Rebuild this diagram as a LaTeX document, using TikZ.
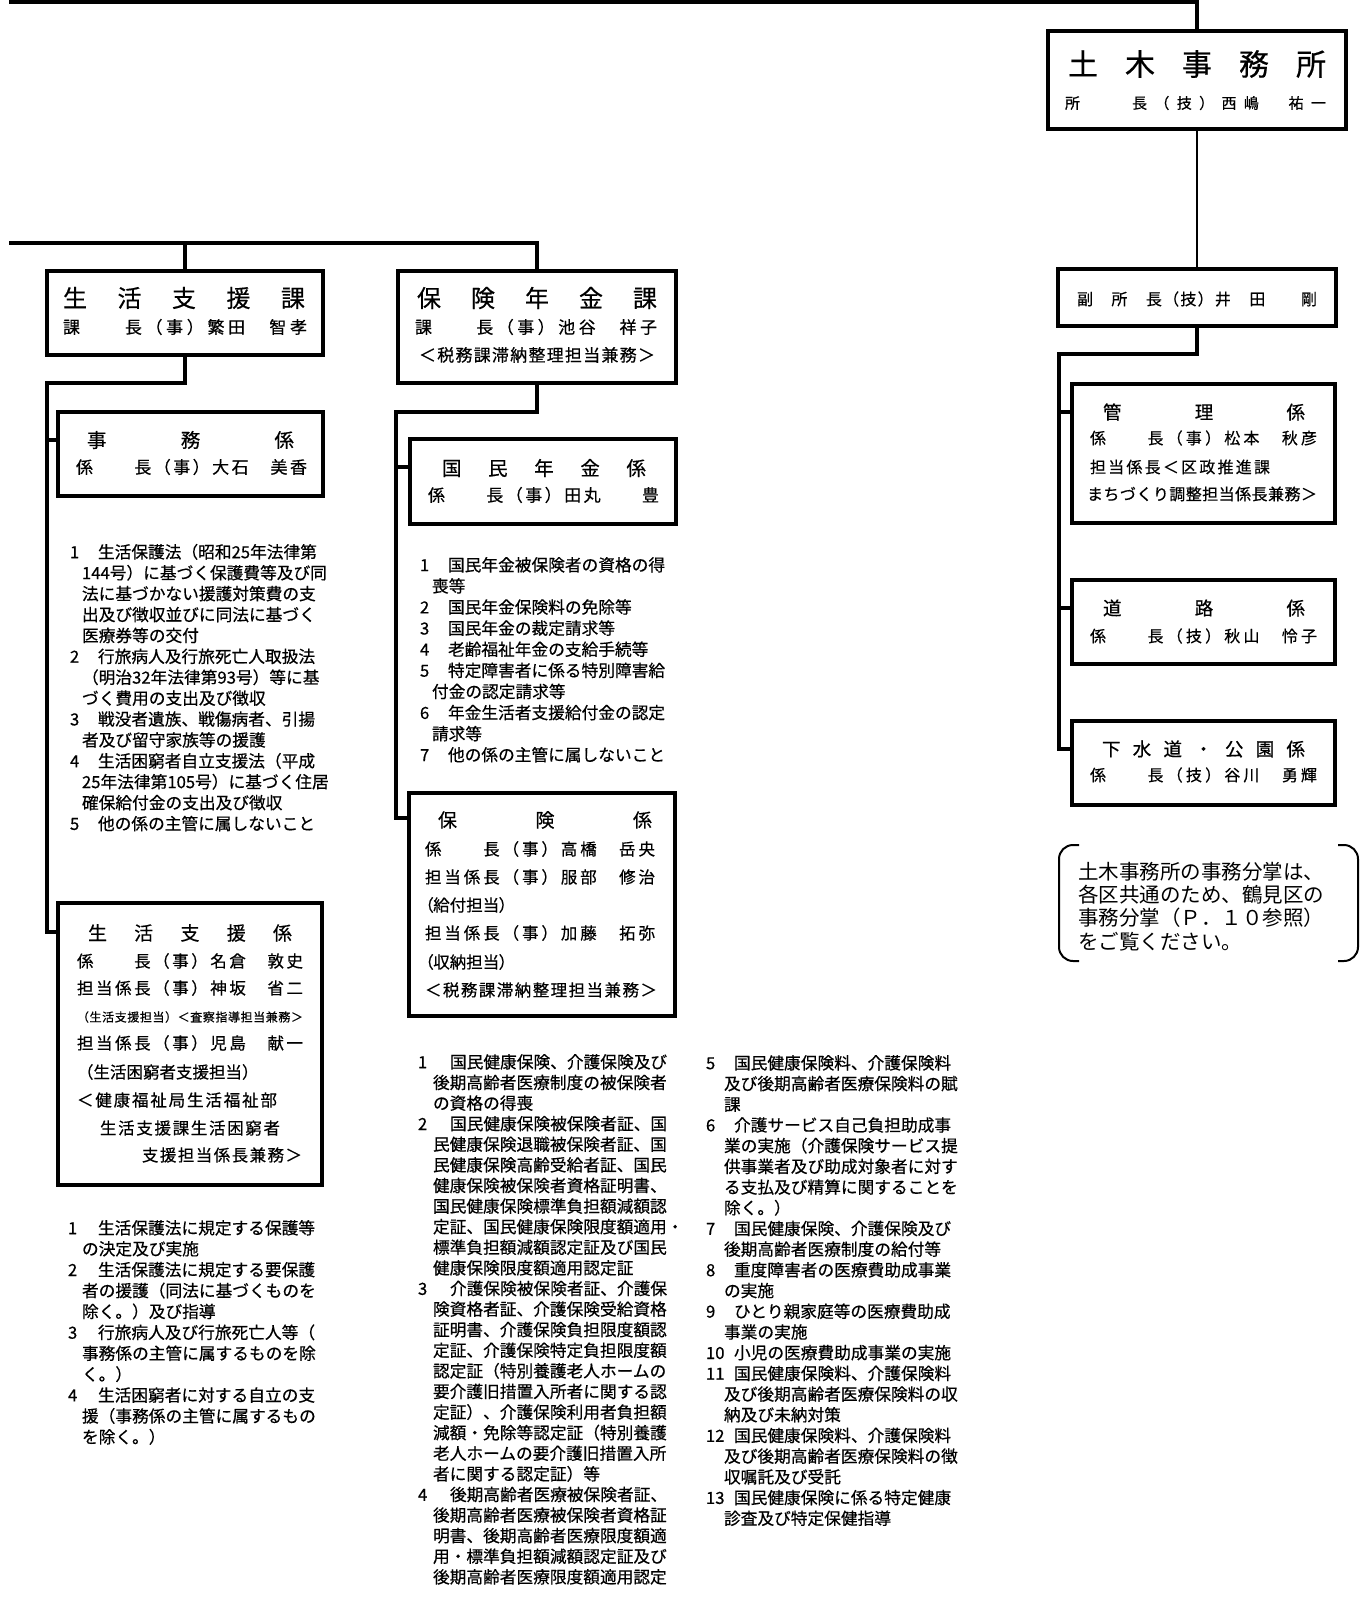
\documentclass[tikz,border=0pt]{standalone}
\usepackage{fontspec}
\setmainfont{Noto Sans CJK JP}[FakeBold=0.5]
\newfontfamily\pfont{Noto Sans CJK JP}[RawFeature=+palt,FakeBold=0.5]
\newfontfamily\notefont{Noto Sans CJK JP}
\makeatletter
\newcommand\spread[2]{\makebox[#1pt][s]{\spr@first#2\relax}}
\def\spr@first#1{#1\spr@rest}
\def\spr@rest#1{\ifx\relax#1\else\hfill#1\expandafter\spr@rest\fi}
\makeatother
\newcommand\fsz[1]{\fontsize{#1pt}{#1pt}\selectfont}
\newcommand\lnum[1]{\makebox[\numw][l]{#1}}
\newcommand\lcont{\hspace*{\contw}}
\newcommand\firstrule{\rule{0pt}{16pt}}
\def\numw{28pt}
\def\contw{12pt}
\tikzset{
  box/.style={draw, line width=3.5pt, inner sep=0pt, outer sep=0pt, anchor=north west},
  link/.style={line width=3.2pt},
  thinlink/.style={line width=2.4pt},
  brk/.style={line width=2pt, rounded corners=14pt},
  lbl/.style={inner sep=0pt, outer sep=0pt, anchor=west},
  listtxt/.style={inner sep=0pt, outer sep=0pt, anchor=north west, align=left},
}
\begin{document}
\begin{tikzpicture}[x=1pt,y=-1pt]
\useasboundingbox (0,0) rectangle (1363,1608);
\fill[white] (0,0) rectangle (1363,1608);

% ---------------- boxes ----------------
\node[box, minimum width=298pt, minimum height=98pt]  (doboku) at (1048,31) {};
\node[box, minimum width=278pt, minimum height=57pt]  (fuku)   at (1058,269) {};
\node[box, minimum width=263pt, minimum height=139pt] (kanri)  at (1072,384) {};
\node[box, minimum width=263pt, minimum height=84pt]  (doro)   at (1072,580) {};
\node[box, minimum width=263pt, minimum height=84pt]  (gesui)  at (1072,721) {};

\node[box, minimum width=276pt, minimum height=84pt]  (seikatsuKa) at (47,271) {};
\node[box, minimum width=278pt, minimum height=112pt] (hokenKa)    at (398,271) {};
\node[box, minimum width=265pt, minimum height=84pt]  (jimu)       at (58,412) {};
\node[box, minimum width=266pt, minimum height=85pt]  (kokumin)    at (410,439) {};
\node[box, minimum width=266pt, minimum height=223pt] (hokenKakari) at (409,793) {};
\node[box, minimum width=264pt, minimum height=282pt] (seikatsuKakari) at (58,903) {};

% ---------------- connectors ----------------
\coordinate (topstart) at (9,2);
\coordinate (midstart) at (9,243);
\coordinate (rspine) at (1059,354);
\coordinate (lspine) at (47,383);
\coordinate (mspine) at (396,412);
\coordinate (kanriIn) at ([yshift=-28pt]kanri.north west);
\coordinate (doroIn) at ([yshift=-28pt]doro.north west);
\coordinate (gesuiIn) at ([yshift=-28pt]gesui.north west);
\coordinate (jimuIn) at ([yshift=-28pt]jimu.north west);
\coordinate (seikatsuKakariIn) at ([yshift=-29pt]seikatsuKakari.north west);
\coordinate (kokuminIn) at ([yshift=-28pt]kokumin.north west);
\coordinate (hokenKakariIn) at ([yshift=-25pt]hokenKakari.north west);

\draw[link] (topstart) -| (doboku.north);
\draw[thinlink] (doboku.south) -- (fuku.north);
\draw[link] (fuku.south) |- (rspine) |- (gesuiIn);
\draw[link] (rspine |- kanriIn) -- (kanriIn);
\draw[link] (rspine |- doroIn) -- (doroIn);

\draw[link] (midstart) -| (hokenKa.north);
\draw[link] (seikatsuKa.north |- midstart) -- (seikatsuKa.north);
\draw[link] (seikatsuKa.south) |- (lspine) |- (seikatsuKakariIn);
\draw[link] (lspine |- jimuIn) -- (jimuIn);
\draw[link] (hokenKa.south) |- (mspine) |- (hokenKakariIn);
\draw[link] (mspine |- kokuminIn) -- (kokuminIn);

% ---------------- box texts: right column ----------------
\node[lbl, font=\fsz{30}] (tDob1) at (1068,64)  {\spread{258}{土木事務所}};
\node[lbl, font=\fsz{15}] (tDob2) at (1065,103) {\spread{261}{所　　長（技）西嶋　祐一}};
\node[lbl, font=\fsz{16}] (tFuku) at (1077,299) {\spread{240}{副　所　長（技）井　田　　剛}};

\node[lbl, font=\fsz{18.5}] (tKan1) at (1103,412) {\spread{202}{管理係}};
\node[lbl, font=\fsz{16}] (tKan2) at (1090,438) {\spread{227}{係　　長（事）松本　秋彦}};
\node[lbl, font=\fsz{16}] (tKan3) at (1090,467) {\spread{180}{担当係長＜区政推進課}};
\node[lbl, font=\fsz{16}] (tKan4) at (1087,494) {\spread{230}{まちづくり調整担当係長兼務＞}};

\node[lbl, font=\fsz{18.5}] (tDor1) at (1103,608) {\spread{202}{道路係}};
\node[lbl, font=\fsz{16}] (tDor2) at (1090,636) {\spread{227}{係　　長（技）秋山　怜子}};

\node[lbl, font=\fsz{18.5}] (tGes1) at (1102,749) {\spread{203}{下水道・公園係}};
\node[lbl, font=\fsz{16}] (tGes2) at (1090,775) {\spread{227}{係　　長（技）谷川　勇輝}};

% note with brackets
\node[inner sep=0pt, outer sep=0pt, anchor=north west, minimum width=299pt, minimum height=116pt] (note) at (1059,845) {};
\draw[brk] ([xshift=20pt]note.north west) -- (note.north west) -- (note.south west) -- ([xshift=20pt]note.south west);
\draw[brk] ([xshift=-20pt]note.north east) -- (note.north east) -- (note.south east) -- ([xshift=-20pt]note.south east);
\node[listtxt, font=\notefont\fontsize{20.5pt}{23.4pt}\selectfont] (noteText) at (1078,859)
  {\rule{0pt}{20pt}土木事務所の事務分掌は、\\各区共通のため、鶴見区の\\事務分掌（Ｐ．１０参照）\\をご覧ください。};

% ---------------- box texts: left ----------------
\node[lbl, font=\fsz{24}] (tSK1) at (63,298) {\spread{242}{生活支援課}};
\node[lbl, font=\fsz{17}] (tSK2) at (63,327) {\spread{244}{課　　長（事）繁田　智孝}};

\node[lbl, font=\fsz{24}] (tHK1) at (417,298) {\spread{240}{保険年金課}};
\node[lbl, font=\fsz{17}] (tHK2) at (415,327) {\spread{242}{課　　長（事）池谷　祥子}};
\node[lbl, font=\fsz{17}] (tHK3) at (419,355) {\spread{236}{＜税務課滞納整理担当兼務＞}};

\node[lbl, font=\fsz{19.5}] (tJim1) at (87,440) {\spread{207}{事務係}};
\node[lbl, font=\fsz{17}] (tJim2) at (76,467) {\spread{231}{係　　長（事）大石　美香}};

\node[lbl, font=\fsz{19.5}] (tKok1) at (442,468) {\spread{204}{国民年金係}};
\node[lbl, font=\fsz{17}] (tKok2) at (428,495) {\spread{231}{係　　長（事）田丸　　豊}};

\node[lbl, font=\fsz{19}] (tHo1) at (438,820) {\spread{214}{保険係}};
\node[lbl, font=\fsz{16.5}] (tHo2) at (425,849) {\spread{230}{係　　長（事）高橋　岳央}};
\node[lbl, font=\fsz{16.5}] (tHo3) at (425,877) {\spread{230}{担当係長（事）服部　修治}};
\node[lbl, font=\fsz{16.5}\pfont] (tHo4) at (425,905) {（給付担当）};
\node[lbl, font=\fsz{16.5}] (tHo5) at (425,933) {\spread{230}{担当係長（事）加藤　拓弥}};
\node[lbl, font=\fsz{16.5}\pfont] (tHo6) at (425,962) {（収納担当）};
\node[lbl, font=\fsz{16.5}] (tHo7) at (425,990) {\spread{232}{＜税務課滞納整理担当兼務＞}};

\node[lbl, font=\fsz{19}] (tSa1) at (88,933) {\spread{204}{生活支援係}};
\node[lbl, font=\fsz{16.5}] (tSa2) at (77,961) {\spread{226}{係　　長（事）名倉　敦史}};
\node[lbl, font=\fsz{16.5}] (tSa3) at (77,988) {\spread{226}{担当係長（事）神坂　省二}};
\node[lbl, font=\fsz{12}] (tSa4) at (77,1017) {\spread{226}{（生活支援担当）＜査察指導担当兼務＞}};
\node[lbl, font=\fsz{16.5}] (tSa5) at (77,1043) {\spread{226}{担当係長（事）児島　献一}};
\node[lbl, font=\fsz{16.5}] (tSa6) at (77,1072) {（生活困窮者支援担当）};
\node[lbl, font=\fsz{16.5}] (tSa7) at (77,1100) {\spread{200}{＜健康福祉局生活福祉部}};
\node[lbl, font=\fsz{16.5}] (tSa8) at (100,1128) {\spread{180}{生活支援課生活困窮者}};
\node[lbl, font=\fsz{16.5}] (tSa9) at (142,1155) {\spread{160}{支援担当係長兼務＞}};

% ---------------- lists ----------------
\def\numw{28pt}\def\contw{12pt}
\node[listtxt, font=\fontsize{16.7pt}{20.9pt}\selectfont] (listJimu) at (70,542.2) {%
\firstrule\lnum{1}生活保護法（昭和25年法律第\\
\lcont 144号）に基づく保護費等及び同\\
\lcont 法に基づかない援護対策費の支\\
\lcont 出及び徴収並びに同法に基づく\\
\lcont 医療券等の交付\\
\lnum{2}行旅病人及行旅死亡人取扱法\\
\lcont （明治32年法律第93号）等に基\\
\lcont づく費用の支出及び徴収\\
\lnum{3}戦没者遺族、戦傷病者、引揚\\
\lcont 者及び留守家族等の援護\\
\lnum{4}生活困窮者自立支援法（平成\\
\lcont 25年法律第105号）に基づく住居\\
\lcont 確保給付金の支出及び徴収\\
\lnum{5}他の係の主管に属しないこと};

\def\numw{28pt}\def\contw{12pt}
\node[listtxt, font=\fontsize{16.7pt}{21.1pt}\selectfont] (listKokumin) at (420,555.2) {%
\firstrule\lnum{1}国民年金被保険者の資格の得\\
\lcont 喪等\\
\lnum{2}国民年金保険料の免除等\\
\lnum{3}国民年金の裁定請求等\\
\lnum{4}老齢福祉年金の支給手続等\\
\lnum{5}特定障害者に係る特別障害給\\
\lcont 付金の認定請求等\\
\lnum{6}年金生活者支援給付金の認定\\
\lcont 請求等\\
\lnum{7}他の係の主管に属しないこと};

\def\numw{30pt}\def\contw{14pt}
\node[listtxt, font=\fontsize{16.7pt}{20.9pt}\selectfont] (listSeikatsu) at (68,1218.2) {%
\firstrule\lnum{1}生活保護法に規定する保護等\\
\lcont の決定及び実施\\
\lnum{2}生活保護法に規定する要保護\\
\lcont 者の援護（同法に基づくものを\\
\lcont 除く。）及び指導\\
\lnum{3}行旅病人及び行旅死亡人等（\\
\lcont 事務係の主管に属するものを除\\
\lcont く。）\\
\lnum{4}生活困窮者に対する自立の支\\
\lcont 援（事務係の主管に属するもの\\
\lcont を除く。）};

\def\numw{32pt}\def\contw{15pt}
\node[listtxt, font=\fontsize{16.7pt}{20.6pt}\selectfont] (listHokenA) at (418,1052.2) {%
\firstrule\lnum{1}国民健康保険、介護保険及び\\
\lcont 後期高齢者医療制度の被保険者\\
\lcont の資格の得喪\\
\lnum{2}国民健康保険被保険者証、国\\
\lcont 民健康保険退職被保険者証、国\\
\lcont 民健康保険高齢受給者証、国民\\
\lcont 健康保険被保険者資格証明書、\\
\lcont 国民健康保険標準負担額減額認\\
\lcont 定証、国民健康保険限度額適用・\\
\lcont 標準負担額減額認定証及び国民\\
\lcont 健康保険限度額適用認定証\\
\lnum{3}介護保険被保険者証、介護保\\
\lcont 険資格者証、介護保険受給資格\\
\lcont 証明書、介護保険負担限度額認\\
\lcont 定証、介護保険特定負担限度額\\
\lcont 認定証（特別養護老人ホームの\\
\lcont 要介護旧措置入所者に関する認\\
\lcont 定証）、介護保険利用者負担額\\
\lcont 減額・免除等認定証（特別養護\\
\lcont 老人ホームの要介護旧措置入所\\
\lcont 者に関する認定証）等\\
\lnum{4}後期高齢者医療被保険者証、\\
\lcont 後期高齢者医療被保険者資格証\\
\lcont 明書、後期高齢者医療限度額適\\
\lcont 用・標準負担額減額認定証及び\\
\lcont 後期高齢者医療限度額適用認定};

\def\numw{28pt}\def\contw{18pt}
\node[listtxt, font=\fontsize{16.7pt}{20.7pt}\selectfont] (listHokenB) at (706,1053.2) {%
\firstrule\lnum{5}国民健康保険料、介護保険料\\
\lcont 及び後期高齢者医療保険料の賦\\
\lcont 課\\
\lnum{6}介護サービス自己負担助成事\\
\lcont 業の実施（介護保険サービス提\\
\lcont 供事業者及び助成対象者に対す\\
\lcont る支払及び精算に関することを\\
\lcont 除く。）\\
\lnum{7}国民健康保険、介護保険及び\\
\lcont 後期高齢者医療制度の給付等\\
\lnum{8}重度障害者の医療費助成事業\\
\lcont の実施\\
\lnum{9}ひとり親家庭等の医療費助成\\
\lcont 事業の実施\\
\lnum{10}小児の医療費助成事業の実施\\
\lnum{11}国民健康保険料、介護保険料\\
\lcont 及び後期高齢者医療保険料の収\\
\lcont 納及び未納対策\\
\lnum{12}国民健康保険料、介護保険料\\
\lcont 及び後期高齢者医療保険料の徴\\
\lcont 収嘱託及び受託\\
\lnum{13}国民健康保険に係る特定健康\\
\lcont 診査及び特定保健指導};

\end{tikzpicture}
\end{document}
